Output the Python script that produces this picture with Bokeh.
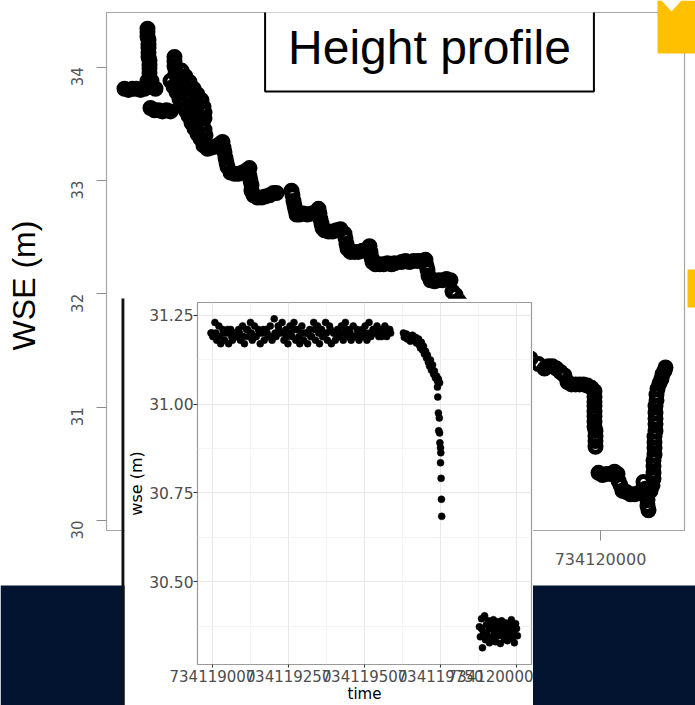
import math
from bokeh.plotting import figure
from bokeh.models import (Range1d, FixedTicker, Label, PrintfTickFormatter,
                          BasicTickFormatter, ColumnDataSource)
from bokeh.embed import file_html
from bokeh.resources import INLINE

# ---------------- main height profile (time vs WSE) ----------------
main_time = [
    734118096, 734118112, 734118128, 734118144, 734118160, 734118176, 734118192, 734118208, 734118220,
    734118188, 734118188, 734118188, 734118192, 734118192, 734118192, 734118192, 734118192,
    734118196, 734118196, 734118196, 734118196, 734118188, 734118204,
    734118200, 734118216, 734118232, 734118248, 734118264, 734118280,
    734118296, 734118296, 734118296, 734118300, 734118300,
    734118280, 734118292, 734118304, 734118316, 734118328, 734118340, 734118352, 734118364, 734118376, 734118388, 734118400,
    734118312, 734118324, 734118336, 734118348, 734118360, 734118372, 734118384, 734118396, 734118408, 734118416, 734118420,
    734118324, 734118340, 734118356, 734118372, 734118388, 734118404, 734118412, 734118416, 734118416,
    734118412, 734118428, 734118444, 734118460, 734118476, 734118488, 734118492, 734118496, 734118500, 734118504, 734118508,
    734118520, 734118536, 734118552, 734118568, 734118584, 734118596, 734118596, 734118600, 734118604, 734118604,
    734118612, 734118628, 734118644, 734118660, 734118676, 734118692, 734118704,
    734118764, 734118768, 734118772, 734118776, 734118780, 734118784,
    734118796, 734118812, 734118828, 734118844, 734118860, 734118872, 734118876, 734118880, 734118884, 734118888,
    734118896, 734118912, 734118928, 734118944, 734118960, 734118976, 734118980, 734118984, 734118988,
    734119000, 734119016, 734119032, 734119048, 734119064, 734119076, 734119080, 734119084, 734119088,
    734119100, 734119116, 734119132, 734119148, 734119164, 734119176,
    734119204, 734119220, 734119236, 734119252, 734119268, 734119284, 734119300, 734119304, 734119308, 734119312,
    734119320, 734119336, 734119352, 734119368, 734119384, 734119400,
    734119408, 734119420, 734119432, 734119448, 734119480, 734119520, 734119560, 734119600, 734119640, 734119680, 734119720, 734119752,
    734119776, 734119792, 734119808, 734119824, 734119840, 734119856,
    734119868, 734119884, 734119900, 734119916, 734119932, 734119948, 734119964, 734119976,
    734119976, 734119976, 734119976, 734119976, 734119976, 734119976, 734119976, 734119980, 734119980, 734119980, 734119980,
    734119992, 734120008, 734120024, 734120040, 734120056, 734120068,
    734120072, 734120080, 734120088, 734120104, 734120120, 734120136, 734120152, 734120164,
    734120172, 734120180, 734120184, 734120188, 734120188, 734120192, 734120200, 734120208, 734120212,
    734120212, 734120212, 734120212, 734120216, 734120216, 734120216, 734120216, 734120220, 734120220, 734120220,
    734120220, 734120220, 734120224, 734120224, 734120228,
    734120236, 734120244, 734120248, 734120256, 734120260,
]
main_wse = [
    33.81, 33.80, 33.81, 33.81, 33.80, 33.81, 33.83, 33.83, 33.81,
    34.34, 34.31, 34.27, 34.24, 34.20, 34.17, 34.13, 34.09,
    34.06, 34.02, 33.99, 33.95, 33.88, 33.88,
    33.64, 33.62, 33.62, 33.61, 33.62, 33.61,
    34.09, 34.05, 34.01, 33.98, 33.94,
    33.88, 33.83, 33.78, 33.72, 33.67, 33.62, 33.57, 33.51, 33.46, 33.41, 33.37,
    33.93, 33.87, 33.82, 33.77, 33.72, 33.66, 33.61, 33.56, 33.50, 33.45, 33.40,
    33.97, 33.92, 33.87, 33.81, 33.76, 33.71, 33.65, 33.60, 33.55,
    33.31, 33.28, 33.29, 33.30, 33.32, 33.34, 33.29, 33.25, 33.20, 33.16, 33.12,
    33.07, 33.06, 33.06, 33.07, 33.09, 33.11, 33.04, 33.00, 32.96, 32.91,
    32.87, 32.85, 32.85, 32.86, 32.87, 32.89, 32.89,
    32.91, 32.87, 32.82, 32.78, 32.74, 32.70,
    32.70, 32.71, 32.70, 32.71, 32.72, 32.75, 32.71, 32.66, 32.62, 32.58,
    32.56, 32.55, 32.55, 32.56, 32.57, 32.53, 32.49, 32.44, 32.40,
    32.37, 32.37, 32.37, 32.38, 32.39, 32.42, 32.37, 32.32, 32.28,
    32.26, 32.26, 32.26, 32.27, 32.26, 32.27,
    32.28, 32.29, 32.28, 32.29, 32.29, 32.29, 32.30, 32.25, 32.21, 32.16,
    32.12, 32.11, 32.12, 32.12, 32.13, 32.12,
    32.02, 31.99, 31.94, 31.90, 31.84, 31.77, 31.68, 31.61, 31.54, 31.48, 31.43, 31.38,
    31.34, 31.36, 31.36, 31.34, 31.31, 31.28,
    31.22, 31.20, 31.20, 31.20, 31.20, 31.19, 31.17, 31.14,
    31.09, 31.05, 31.01, 30.96, 30.92, 30.87, 30.83, 30.79, 30.74, 30.70, 30.65,
    30.42, 30.40, 30.41, 30.41, 30.43, 30.41,
    30.35, 30.31, 30.26, 30.25, 30.23, 30.23, 30.24, 30.26,
    30.34, 30.28, 30.23, 30.18, 30.13, 30.09, 30.26, 30.31, 30.37,
    30.42, 30.48, 30.53, 30.58, 30.64, 30.69, 30.74, 30.79, 30.85, 30.90,
    30.95, 31.01, 31.06, 31.11, 31.16,
    31.21, 31.25, 31.29, 31.32, 31.35,
]
main_yticks = [30, 31, 32, 33, 34]
main_xticks = [734119000, 734120000]
main_title = "Height profile"
main_ylabel = "WSE (m)"

# ---------------- inset (ggplot style) ----------------
inset_time = [
    # plateau
    734118995, 734119001, 734119008, 734119014, 734119021, 734119027, 734119034, 734119040, 734119047, 734119053,
    734119060, 734119066, 734119073, 734119079, 734119086, 734119092, 734119099, 734119105, 734119112, 734119118,
    734119125, 734119131, 734119138, 734119144, 734119151, 734119157, 734119164, 734119170, 734119177, 734119183,
    734119190, 734119196, 734119203, 734119209, 734119216, 734119222, 734119229, 734119235, 734119242, 734119248,
    734119255, 734119261, 734119268, 734119274, 734119281, 734119287, 734119294, 734119300, 734119307, 734119313,
    734119320, 734119326, 734119333, 734119339, 734119346, 734119352, 734119359, 734119365, 734119372, 734119378,
    734119385, 734119391, 734119398, 734119404, 734119411, 734119417, 734119424, 734119430, 734119437, 734119443,
    734119450, 734119456, 734119463, 734119469, 734119476, 734119482, 734119489, 734119495, 734119502, 734119508,
    734119515, 734119521, 734119528, 734119534, 734119541, 734119547, 734119554, 734119560, 734119567, 734119573,
    734119580, 734119586,
    734118998, 734119011, 734119024, 734119037, 734119050, 734119063, 734119076, 734119089, 734119102, 734119115,
    734119128, 734119141, 734119154, 734119167, 734119180, 734119193, 734119206, 734119219, 734119232, 734119245,
    734119258, 734119271, 734119284, 734119297, 734119310, 734119323, 734119336, 734119349, 734119362, 734119375,
    734119388, 734119401, 734119414, 734119427, 734119440, 734119453, 734119466, 734119479, 734119492, 734119505,
    734119518, 734119531, 734119544, 734119557, 734119570, 734119583,
    # decline
    734119628, 734119631, 734119638, 734119641, 734119648, 734119651, 734119658, 734119661, 734119668, 734119671,
    734119678, 734119681, 734119684, 734119687, 734119691, 734119694, 734119697, 734119701, 734119704, 734119707,
    734119710, 734119714, 734119717, 734119720, 734119724, 734119727, 734119730, 734119733, 734119737, 734119740,
    734119743, 734119747,
    734119740, 734119741, 734119743, 734119746, 734119744, 734119747, 734119748, 734119750, 734119751, 734119750,
    734119752, 734119753, 734119754,
    # low cluster
    734119878, 734119881, 734119885, 734119888, 734119891, 734119895, 734119898, 734119901, 734119904, 734119908,
    734119911, 734119914, 734119918, 734119921, 734119924, 734119927, 734119931, 734119934, 734119937, 734119941,
    734119944, 734119947, 734119951, 734119954, 734119957, 734119960, 734119964, 734119967, 734119970, 734119974,
    734119977, 734119980, 734119983, 734119987, 734119990, 734119993, 734119997, 734120000, 734120003,
    734119885, 734119898, 734119911, 734119924, 734119937, 734119951, 734119964, 734119977, 734119990,
]
inset_wse = [
    31.20, 31.19, 31.23, 31.18, 31.22, 31.17, 31.21, 31.18, 31.20, 31.17,
    31.21, 31.18, 31.20, 31.19, 31.21, 31.18, 31.22, 31.17, 31.21, 31.19,
    31.23, 31.18, 31.22, 31.19, 31.21, 31.17, 31.20, 31.18, 31.21, 31.19,
    31.22, 31.18, 31.24, 31.19, 31.22, 31.20, 31.23, 31.18, 31.21, 31.17,
    31.22, 31.19, 31.23, 31.18, 31.21, 31.17, 31.22, 31.18, 31.20, 31.17,
    31.21, 31.19, 31.23, 31.18, 31.22, 31.17, 31.21, 31.19, 31.23, 31.18,
    31.22, 31.17, 31.20, 31.18, 31.21, 31.19, 31.22, 31.18, 31.23, 31.19,
    31.21, 31.18, 31.22, 31.19, 31.21, 31.18, 31.20, 31.19, 31.22, 31.18,
    31.23, 31.19, 31.21, 31.20, 31.22, 31.19, 31.21, 31.20, 31.22, 31.19,
    31.21, 31.20,
    31.20, 31.20, 31.19, 31.20, 31.21, 31.19, 31.20, 31.20, 31.19, 31.21,
    31.20, 31.19, 31.20, 31.21, 31.20, 31.19, 31.20, 31.21, 31.20, 31.19,
    31.20, 31.21, 31.19, 31.20, 31.20, 31.19, 31.21, 31.20, 31.19, 31.20,
    31.21, 31.20, 31.19, 31.20, 31.21, 31.20, 31.19, 31.20, 31.21, 31.20,
    31.20, 31.21, 31.20, 31.19, 31.20, 31.21,
    31.200, 31.188, 31.197, 31.183, 31.191, 31.177, 31.194, 31.180, 31.188, 31.172,
    31.183, 31.166, 31.158, 31.174, 31.152, 31.163, 31.141, 31.149, 31.130, 31.138,
    31.118, 31.107, 31.124, 31.096, 31.110, 31.085, 31.093, 31.074, 31.079, 31.065,
    31.071, 31.060,
    31.048, 31.020, 30.975, 30.961, 30.925, 30.919, 30.891, 30.877, 30.863, 30.835,
    30.791, 30.732, 30.684,
    30.373, 30.345, 30.396, 30.314, 30.359, 30.404, 30.337, 30.379, 30.351, 30.390,
    30.328, 30.368, 30.382, 30.342, 30.393, 30.356, 30.331, 30.373, 30.387, 30.348,
    30.365, 30.326, 30.390, 30.356, 30.376, 30.339, 30.384, 30.362, 30.334, 30.379,
    30.351, 30.370, 30.393, 30.342, 30.359, 30.328, 30.382, 30.368, 30.348,
    30.368, 30.356, 30.370, 30.373, 30.362, 30.373, 30.351, 30.365, 30.376,
]
inset_xticks = [734119000, 734119250, 734119500, 734119750, 734120000]
inset_xminor = [734119125, 734119375, 734119625, 734119875]
inset_yticks = [30.50, 30.75, 31.00, 31.25]
inset_yminor = [30.375, 30.625, 30.875, 31.125]
inset_xlabel = "time"
inset_ylabel = "wse (m)"

NAVY = "#02142f"
YELLOW = "#ffc000"


def place(left, top, w, h, z):
    return {"position": "absolute", "left": f"{left}px", "top": f"{top}px",
            "width": f"{w}px", "height": f"{h}px", "z-index": str(z)}


# ---------------- main figure ----------------
p = figure(width=695, height=705,
           x_range=Range1d(734118024, 734120336), y_range=Range1d(29.911, 34.483),
           output_backend="svg", toolbar_location=None,
           min_border_left=106, min_border_right=11, min_border_top=12, min_border_bottom=175,
           styles=place(0, 0, 695, 705, 0))
p.background_fill_color = "white"
p.border_fill_color = "white"
p.outline_line_color = "#a6a6a6"
p.outline_line_width = 1.2
p.xgrid.visible = False
p.ygrid.visible = False

p.xaxis.ticker = FixedTicker(ticks=main_xticks)
p.xaxis.formatter = BasicTickFormatter(use_scientific=False)
p.xaxis.axis_line_color = None
p.xaxis.major_tick_line_color = "#8c8c8c"
p.xaxis.major_tick_out = 10
p.xaxis.major_tick_in = 0
p.xaxis.minor_tick_line_color = None
p.xaxis.major_label_text_font = "DejaVu Sans"
p.xaxis.major_label_text_font_size = "16px"
p.xaxis.major_label_text_color = "#555555"
p.xaxis.major_label_standoff = 12

p.yaxis.ticker = FixedTicker(ticks=main_yticks)
p.yaxis.axis_line_color = None
p.yaxis.major_tick_line_color = "#8c8c8c"
p.yaxis.major_tick_out = 10
p.yaxis.major_tick_in = 0
p.yaxis.minor_tick_line_color = None
p.yaxis.major_label_orientation = math.pi / 2
p.yaxis.major_label_text_font = "DejaVu Sans"
p.yaxis.major_label_text_font_size = "15px"
p.yaxis.major_label_text_color = "#555555"
p.yaxis.major_label_standoff = 19

src_main = ColumnDataSource(dict(t=main_time, w=main_wse))
p.scatter(x="t", y="w", source=src_main, marker="circle", size=11,
          fill_color=None, line_color="black", line_width=5)

p.add_layout(Label(x=734119316, y=34.17, text=main_title,
                   text_font="Liberation Sans", text_font_size="48px",
                   text_align="center", text_baseline="middle", text_color="black",
                   background_fill_color="white", border_line_color="black",
                   border_line_width=2, padding=(23, 17)))

# ---------------- decoration layer (slide elements, page pixel coords) ----------------
d = figure(width=695, height=705, x_range=Range1d(0, 695), y_range=Range1d(705, 0),
           x_axis_type=None, y_axis_type=None, output_backend="svg",
           toolbar_location=None, min_border=0,
           styles=place(0, 0, 695, 705, 1))
d.outline_line_color = None
d.background_fill_alpha = 0
d.border_fill_alpha = 0
d.quad(left=[0], right=[695], top=[585], bottom=[705], fill_color=NAVY, line_color=None)
d.patch(x=[657, 661, 671, 681, 695, 695, 657], y=[0, 0, 11, 0, 0, 53, 53],
        fill_color=YELLOW, line_color=None)
d.quad(left=[687], right=[695], top=[269], bottom=[307], fill_color=YELLOW, line_color=None)
d.quad(left=[121], right=[124], top=[298], bottom=[705], fill_color="#111111", line_color=None)
# y-axis title of the main chart, placed where the slide shows it
d.add_layout(Label(x=23, y=285, text=main_ylabel, angle=math.pi / 2,
                   text_font="Liberation Sans", text_font_size="32px",
                   text_align="center", text_baseline="middle", text_color="black"))

# ---------------- inset figure ----------------
q = figure(width=409, height=407,
           x_range=Range1d(734118950.7, 734120049.3), y_range=Range1d(30.267, 31.286),
           output_backend="svg", toolbar_location=None,
           min_border_left=73, min_border_right=2, min_border_top=4, min_border_bottom=39,
           styles=place(124, 298, 409, 407, 2))
q.background_fill_color = "white"
q.border_fill_color = "white"
q.outline_line_color = "#9a9a9a"
q.outline_line_width = 1.2

xt = FixedTicker(ticks=inset_xticks, minor_ticks=inset_xminor)
yt = FixedTicker(ticks=inset_yticks, minor_ticks=inset_yminor)
q.xaxis.ticker = xt
q.yaxis.ticker = yt
q.xgrid.ticker = xt
q.ygrid.ticker = yt
for g in (q.xgrid, q.ygrid):
    g.grid_line_color = "#e8e8e8"
    g.grid_line_width = 1.1
    g.minor_grid_line_color = "#f1f1f1"
    g.minor_grid_line_width = 0.8

q.xaxis.formatter = BasicTickFormatter(use_scientific=False)
q.yaxis.formatter = PrintfTickFormatter(format="%.2f")
for ax in (q.xaxis, q.yaxis):
    ax.axis_line_color = None
    ax.major_tick_line_color = "#333333"
    ax.major_tick_in = 0
    ax.minor_tick_line_color = None
    ax.major_label_text_font = "DejaVu Sans"
    ax.major_label_text_color = "#4d4d4d"
    ax.axis_label_text_font = "DejaVu Sans"
    ax.axis_label_text_font_style = "normal"
    ax.axis_label_text_color = "black"
q.xaxis.major_tick_out = 3
q.xaxis.major_label_text_font_size = "15px"
q.xaxis.major_label_standoff = 1
q.xaxis.axis_label = inset_xlabel
q.xaxis.axis_label_text_font_size = "15px"
q.xaxis.axis_label_standoff = 0
q.yaxis.major_tick_out = 4
q.yaxis.major_label_text_font_size = "15.5px"
q.yaxis.major_label_standoff = 0
q.yaxis.axis_label = inset_ylabel
q.yaxis.axis_label_text_font_size = "16px"
q.yaxis.axis_label_standoff = 0

src_inset = ColumnDataSource(dict(t=inset_time, w=inset_wse))
q.scatter(x="t", y="w", source=src_inset, marker="circle", size=7,
          fill_color="black", line_color="black", line_width=0.5)

open("out.html", "w").write(file_html([p, d, q], INLINE))
